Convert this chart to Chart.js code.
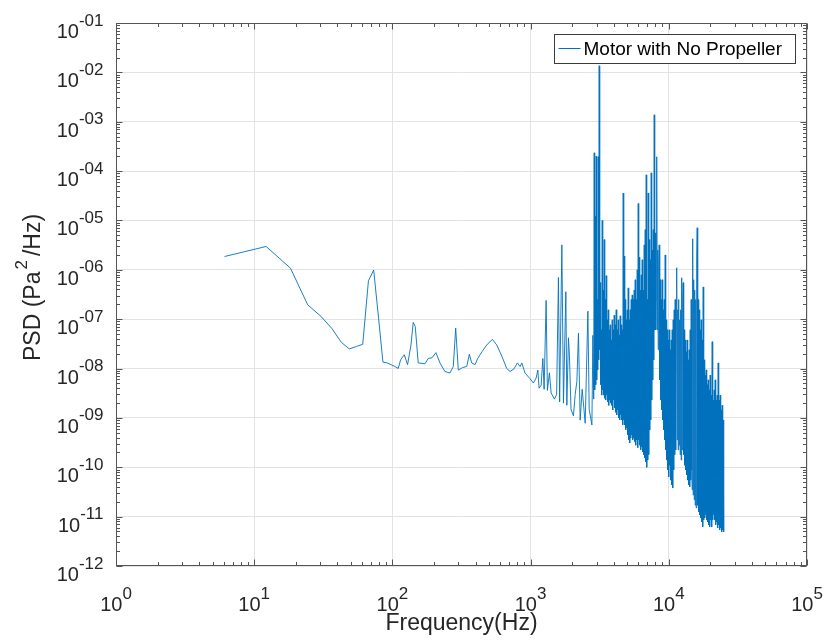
<!DOCTYPE html>
<html>
<head>
<meta charset="utf-8">
<script src="https://cdn.jsdelivr.net/npm/chart.js@4.4.1/dist/chart.umd.min.js"></script>
<style>
  html, body { margin: 0; padding: 0; background: #fff; }
  #psd-chart { display: block; }
</style>
</head>
<body>
<canvas id="psd-chart" width="825" height="643"></canvas>
<script>
// ---- data (Hz, Pa^2/Hz) ----
const seriesLabel = 'Motor with No Propeller';

// low band, 6 Hz bins
const lowFreq = [6.1, 12.2, 18.3, 24.4, 30.5, 36.6, 42.7, 48.8, 54.9, 61.0, 67.1, 73.2, 79.3, 85.4, 91.6, 97.7];
const lowPsd = [1.86e-6, 2.97e-6, 1.08e-6, 1.95e-7, 1.13e-7, 6.4e-8, 3.4e-8, 2.5e-8, 2.8e-8, 3.1e-8, 6.0e-7, 9.9e-7, 1.1e-7, 1.35e-8, 1.3e-8, 1.2e-8];

// 100 Hz - 1 kHz
const midFreq = [104.3, 110.2, 114.6, 121.8, 128.8, 136.2, 141.5, 146.3, 153.8, 172, 181.7, 193.3, 206.6, 220.8, 240, 261, 275.8, 287, 299.8, 322.7,
  345, 360.2, 375, 396.3, 414.4, 445.4, 481.6, 528.8, 568.9, 618.4, 672.2, 710.2, 759.4, 802.4, 839.3, 863.4, 912, 991.7];
const midPsd = [1.1e-8, 1.0e-8, 1.5e-8, 1.9e-8, 1.2e-8, 3.0e-8, 8.6e-8, 7.1e-8, 1.3e-8, 1.25e-8, 1.6e-8, 1.65e-8, 2.1e-8, 1.3e-8, 8.7e-9, 8.1e-9, 1.1e-8, 6.6e-8, 9.3e-9, 1.05e-8,
  1.1e-8, 1.95e-8, 1.3e-8, 1.2e-8, 1.6e-8, 2.2e-8, 3.0e-8, 3.9e-8, 3.0e-8, 1.8e-8, 1.0e-8, 8.7e-9, 9.9e-9, 1.3e-8, 1.1e-8, 1.3e-8, 8.1e-9, 6.2e-9];

// 1 kHz - 2.9 kHz, sparse tones
const spikeFreq = [1048, 1096, 1128, 1152, 1192, 1226, 1253, 1295, 1323, 1368, 1408, 1488, 1543, 1590, 1622, 1683, 1729, 1799, 1829, 1879,
  1910, 1960, 2042, 2102, 2162, 2220, 2284, 2362, 2483, 2597, 2654, 2777, 2823, 2861];
const spikePsd = [5.1e-9, 6.4e-9, 9.3e-9, 4.0e-9, 4.6e-9, 1.6e-8, 3.8e-9, 2.4e-7, 3.6e-9, 8.2e-9, 3.2e-9, 2.4e-9, 3.0e-9, 7.0e-7, 2.1e-9, 3.2e-6, 2.0e-9, 3.6e-7, 1.8e-9, 4.2e-8,
  1.8e-8, 1.5e-9, 1.1e-9, 3.0e-9, 5.5e-9, 5.2e-8, 9.0e-10, 3.8e-9, 7.8e-10, 1.45e-7, 1.5e-9, 7.2e-10, 4.7e-8, 2.4e-9];

// 2.9 kHz - 25 kHz, dense tonal region
const denseFreq = [
  2885, 2909, 2934, 2959, 2983, 3008, 3033, 3058, 3084, 3110,
  3136, 3162, 3189, 3216, 3243, 3270, 3297, 3325, 3352, 3380,
  3409, 3438, 3466, 3495, 3524, 3554, 3584, 3614, 3644, 3675,
  3705, 3736, 3768, 3800, 3831, 3863, 3895, 3928, 3961, 3994,
  4027, 4061, 4095, 4129, 4164, 4199, 4234, 4270, 4305, 4341,
  4377, 4414, 4451, 4488, 4525, 4563, 4601, 4640, 4679, 4718,
  4757, 4797, 4837, 4878, 4918, 4959, 5001, 5043, 5085, 5128,
  5170, 5213, 5257, 5301, 5346, 5391, 5435, 5481, 5527, 5573,
  5620, 5667, 5714, 5762, 5810, 5859, 5908, 5958, 6007, 6057,
  6108, 6159, 6210, 6262, 6315, 6368, 6421, 6475, 6529, 6584,
  6638, 6694, 6750, 6807, 6863, 6921, 6978, 7037, 7096, 7156,
  7215, 7276, 7336, 7398, 7459, 7522, 7585, 7649, 7712, 7777,
  7842, 7908, 7974, 8041, 8107, 8175, 8243, 8312, 8382, 8452,
  8523, 8595, 8666, 8739, 8811, 8885, 8959, 9034, 9110, 9186,
  9263, 9341, 9418, 9497, 9576, 9656, 9737, 9819, 9901, 9984,
  10067, 10152, 10236, 10322, 10408, 10495, 10583, 10672, 10761, 10851,
  10941, 11033, 11125, 11218, 11312, 11407, 11502, 11599, 11695, 11793,
  11892, 11992, 12091, 12193, 12294, 12397, 12501, 12606, 12711, 12818,
  12924, 13033, 13141, 13251, 13362, 13474, 13586, 13700, 13815, 13931,
  14047, 14165, 14282, 14402, 14522, 14644, 14766, 14890, 15014, 15140,
  15266, 15394, 15523, 15653, 15783, 15916, 16048, 16183, 16318, 16455,
  16592, 16731, 16871, 17013, 17154, 17298, 17442, 17589, 17735, 17884,
  18033, 18184, 18336, 18490, 18643, 18800, 18957, 19116, 19275, 19437,
  19599, 19764, 19928, 20095, 20262, 20432, 20603, 20776, 20949, 21125,
  21300, 21479, 21658, 21840, 22022, 22207, 22391, 22579, 22767, 22958,
  23150, 23344, 23539, 23737, 23934, 24135, 24336, 24540, 24745, 24950
];
const densePsd = [
  2.35e-4, 3.7e-9, 1.2e-5, 4.7e-9, 2.0e-4, 5.9e-9, 2.5e-7, 9.4e-9, 1.95e-4, 1.5e-8,
  1.36e-2, 2.4e-8, 5.5e-7, 4.7e-9, 6.1e-8, 2.9e-9, 1.0e-5, 3.7e-9, 3.9e-7, 2.9e-9,
  4.1e-6, 2.5e-9, 2.5e-7, 2.3e-9, 7.6e-7, 2.9e-9, 9.7e-8, 2.1e-9, 1.55e-7, 1.8e-9,
  6.1e-8, 2.3e-9, 7.7e-8, 2.0e-9, 3.8e-8, 1.8e-9, 9.7e-8, 1.45e-9, 6.1e-8, 2.3e-9,
  1.2e-7, 1.6e-9, 7.7e-8, 1.3e-9, 1.55e-7, 1.15e-9, 6.1e-8, 1.45e-9, 9.7e-8, 1.0e-9,
  4.8e-8, 9.1e-10, 1.17e-7, 1.15e-9, 7.7e-8, 9.1e-10, 6.1e-8, 7.2e-10, 3.6e-5, 9.1e-10,
  1.9e-6, 7.2e-10, 2.5e-7, 5.7e-10, 9.7e-8, 6.3e-10, 1.55e-7, 4.5e-10, 4.3e-7, 3.6e-10,
  9.7e-8, 3.1e-10, 1.55e-7, 3.9e-10, 2.5e-7, 4.5e-10, 3.1e-7, 3.6e-10, 2.5e-7, 3.9e-10,
  3.9e-7, 3.3e-10, 6.3e-7, 2.8e-10, 2.5e-7, 3.6e-10, 1.0e-6, 2.5e-10, 2.2e-5, 3.6e-10,
  1.8e-6, 2.8e-10, 3.9e-7, 2.25e-10, 7.9e-7, 2.6e-10, 1.6e-6, 2.05e-10, 3.9e-7, 1.8e-10,
  3.2e-6, 1.55e-10, 6.5e-6, 1.28e-10, 8.4e-5, 1.0e-10, 2.5e-7, 1.4e-10, 3.6e-5, 1.8e-10,
  4.1e-6, 5.7e-10, 1.6e-6, 9.1e-10, 9.2e-5, 2.3e-9, 2.5e-6, 5.9e-9, 6.5e-6, 1.5e-8,
  1.38e-3, 6.1e-8, 5.6e-6, 6.1e-8, 2.5e-7, 1.95e-4, 6.1e-8, 2.5e-6, 2.4e-8, 1.6e-6,
  3.2e-6, 5.9e-9, 6.3e-7, 2.3e-9, 2.5e-7, 1.45e-9, 6.3e-7, 9.1e-10, 1.55e-7, 5.7e-10,
  2.5e-7, 3.6e-10, 2.0e-6, 2.25e-10, 9.7e-8, 1.4e-10, 6.1e-8, 8.8e-11, 3.8e-8, 6.4e-11,
  6.1e-8, 1.1e-10, 2.4e-8, 5.5e-11, 3.8e-8, 4.4e-11, 6.1e-8, 3.8e-11, 9.7e-8, 8.8e-11,
  1.55e-7, 1.8e-10, 2.5e-7, 2.25e-10, 9.7e-8, 1.1e-6, 3.6e-10, 1.55e-7, 2.25e-10, 2.5e-7,
  2.8e-10, 9.7e-8, 1.8e-10, 1.55e-7, 1.4e-10, 6.9e-7, 2.25e-10, 2.5e-7, 5.5e-7, 1.8e-10,
  6.1e-8, 1.1e-10, 3.8e-8, 8.8e-11, 2.2e-8, 7.0e-11, 3.8e-8, 5.5e-11, 1.5e-8, 4.4e-11,
  2.4e-8, 4.0e-11, 6.1e-8, 5.5e-11, 2.5e-7, 8.8e-11, 3.5e-11, 4.25e-6, 2.75e-11, 6.3e-7,
  2.2e-11, 3.9e-7, 1.7e-11, 2.5e-7, 1.5e-11, 1.6e-6, 7.1e-6, 1.7e-11, 2.5e-7, 1.25e-11,
  1.55e-7, 1.08e-11, 6.1e-8, 9.4e-12, 9.7e-8, 7.8e-12, 3.8e-8, 6.2e-12, 4.5e-7, 8.6e-12,
  1.5e-8, 9.4e-12, 7.4e-9, 1.08e-11, 9.4e-9, 8.6e-12, 4.7e-9, 7.8e-12, 5.9e-9, 6.8e-12,
  3.7e-9, 6.2e-12, 7.4e-9, 8.6e-12, 2.9e-9, 6.2e-12, 3.5e-8, 8.6e-12, 2.3e-9, 1.08e-11,
  3.7e-9, 8.6e-12, 5.9e-9, 6.8e-12, 2.3e-9, 7.8e-12, 2.9e-9, 5.9e-12, 1.3e-8, 6.8e-12,
  2.3e-9, 5.4e-12, 2.9e-9, 5.9e-12, 1.45e-9, 4.9e-12, 1.8e-9, 5.4e-12, 9.1e-10, 4.9e-12
];

// axis tick labels (10^n)
const xTickExps = ['0', '1', '2', '3', '4', '5'];
const yTickExps = ['-01', '-02', '-03', '-04', '-05', '-06', '-07', '-08', '-09', '-10', '-11', '-12'];

const FONT = '"Liberation Sans", Arial, Helvetica, sans-serif';
const TEXT_COLOR = '#262626';
const AXIS_COLOR = '#555555';
const GRID_COLOR = '#e3e3e3';
const LINE_COLOR = '#0072BD';

function buildPoints() {
    const freqs = [].concat(lowFreq, midFreq, spikeFreq, denseFreq);
    const psd = [].concat(lowPsd, midPsd, spikePsd, densePsd);
    return freqs.map((f, i) => ({ x: f, y: psd[i] }));
}

function isDecade(v) {
    const l = Math.log10(v);
    return Math.abs(l - Math.round(l)) < 1e-6;
}

// draws "10" with a raised exponent; align 'center' or 'right'
function drawPower(ctx, exp, x, baseline, align) {
    ctx.font = '20px ' + FONT;
    const wBase = ctx.measureText('10').width;
    ctx.font = '17px ' + FONT;
    const wExp = ctx.measureText(exp).width;
    const total = wBase + wExp;
    const left = align === 'center' ? x - total / 2 : x - total;
    ctx.textAlign = 'left';
    ctx.textBaseline = 'alphabetic';
    ctx.font = '20px ' + FONT;
    ctx.fillText('10', left, baseline);
    ctx.font = '17px ' + FONT;
    ctx.fillText(exp, left + wBase, baseline - 12.5);
}

const axesDecor = {
    id: 'axesDecor',
    afterDraw(chart) {
        const { ctx, chartArea: a } = chart;
        const xs = chart.scales.x, ys = chart.scales.y;
        ctx.save();

        // box
        const L = Math.round(a.left) + 0.5, R = Math.round(a.right) - 0.5;
        const T = Math.round(a.top) + 0.5, B = Math.round(a.bottom) - 0.5;
        ctx.strokeStyle = AXIS_COLOR;
        ctx.lineWidth = 1;
        ctx.strokeRect(L, T, R - L, B - T);

        // inward ticks on all four sides
        ctx.beginPath();
        for (let d = 0; d <= 5; d++) {
            for (let m = 1; m <= 9; m++) {
                const v = m * Math.pow(10, d);
                if (v > xs.max * 1.0001) break;
                const px = Math.round(xs.getPixelForValue(v)) + 0.5;
                const len = m === 1 ? 6 : 3.5;
                ctx.moveTo(px, B); ctx.lineTo(px, B - len);
                ctx.moveTo(px, T); ctx.lineTo(px, T + len);
            }
        }
        for (let d = -12; d <= -1; d++) {
            for (let m = 1; m <= 9; m++) {
                const v = m * Math.pow(10, d);
                if (v > ys.max * 1.0001) break;
                const py = Math.round(ys.getPixelForValue(v)) + 0.5;
                const len = m === 1 ? 6 : 3.5;
                ctx.moveTo(L, py); ctx.lineTo(L + len, py);
                ctx.moveTo(R, py); ctx.lineTo(R - len, py);
            }
        }
        ctx.stroke();

        // tick labels
        ctx.fillStyle = TEXT_COLOR;
        xTickExps.forEach(e => {
            const px = xs.getPixelForValue(Math.pow(10, Number(e)));
            drawPower(ctx, e, px, a.bottom + 45, 'center');
        });
        yTickExps.forEach(e => {
            const py = ys.getPixelForValue(Math.pow(10, Number(e)));
            drawPower(ctx, e, a.left - 12.5, py + 15, 'right');
        });

        // axis titles
        ctx.font = '23px ' + FONT;
        ctx.textAlign = 'center';
        ctx.textBaseline = 'alphabetic';
        ctx.fillText('Frequency(Hz)', (a.left + a.right) / 2, a.bottom + 64);

        ctx.save();
        ctx.translate(40, (a.top + a.bottom) / 2 - 7);
        ctx.rotate(-Math.PI / 2);
        const p1 = 'PSD (Pa', sup = '2', p2 = '/Hz)';
        ctx.font = '23px ' + FONT;
        const w1 = ctx.measureText(p1).width, w2 = ctx.measureText(p2).width;
        ctx.font = '17px ' + FONT;
        const ws = ctx.measureText(sup).width + 6;
        const sx = -(w1 + ws + w2) / 2;
        ctx.textAlign = 'left';
        ctx.font = '23px ' + FONT;
        ctx.fillText(p1, sx, 0);
        ctx.font = '17px ' + FONT;
        ctx.fillText(sup, sx + w1 + 2, -13);
        ctx.font = '23px ' + FONT;
        ctx.fillText(p2, sx + w1 + ws, 0);
        ctx.restore();

        // legend box
        const ds = chart.data.datasets[0];
        const bx = Math.round(a.right) - 253 + 0.5, by = Math.round(a.top) + 11 + 0.5;
        const bw = 241, bh = 29;
        ctx.fillStyle = '#ffffff';
        ctx.fillRect(bx, by, bw, bh);
        ctx.strokeStyle = '#3c3c3c';
        ctx.strokeRect(bx, by, bw, bh);
        ctx.strokeStyle = ds.borderColor;
        ctx.lineWidth = 1;
        ctx.beginPath();
        ctx.moveTo(bx + 4, by + 14);
        ctx.lineTo(bx + 26, by + 14);
        ctx.stroke();
        ctx.fillStyle = '#000000';
        ctx.font = '19px ' + FONT;
        ctx.textAlign = 'left';
        ctx.textBaseline = 'middle';
        ctx.fillText(ds.label, bx + 29, by + 15);

        ctx.restore();
    }
};

function initChart() {
    const canvas = document.getElementById('psd-chart');
    new Chart(canvas, {
        type: 'line',
        data: {
            datasets: [{
                label: seriesLabel,
                data: buildPoints(),
                borderColor: LINE_COLOR,
                borderWidth: 0.9,
                pointRadius: 0,
                tension: 0,
                fill: false
            }]
        },
        options: {
            responsive: false,
            animation: false,
            devicePixelRatio: 1,
            layout: { padding: { left: 116, right: 18, top: 23, bottom: 77 } },
            plugins: {
                legend: { display: false },
                tooltip: { enabled: false }
            },
            scales: {
                x: {
                    type: 'logarithmic',
                    min: 1,
                    max: 1e5,
                    ticks: { display: false },
                    border: { display: false },
                    grid: {
                        drawTicks: false,
                        color: c => (c.tick && isDecade(c.tick.value)) ? GRID_COLOR : 'rgba(0,0,0,0)'
                    }
                },
                y: {
                    type: 'logarithmic',
                    min: 1e-12,
                    max: 1e-1,
                    ticks: { display: false },
                    border: { display: false },
                    grid: {
                        drawTicks: false,
                        color: c => (c.tick && isDecade(c.tick.value)) ? GRID_COLOR : 'rgba(0,0,0,0)'
                    }
                }
            }
        },
        plugins: [axesDecor]
    });
}

initChart();
</script>
</body>
</html>
